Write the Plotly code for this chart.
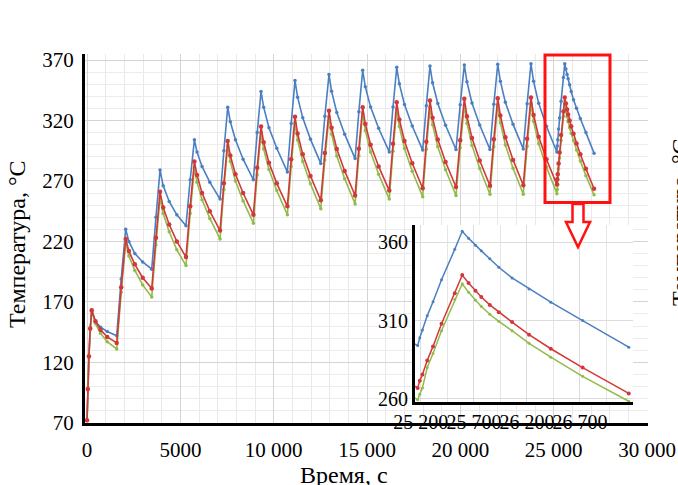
import plotly.graph_objects as go

# ---------------- data ----------------
time_s = [
    0, 40, 100, 170, 250,
    450, 720, 1080, 1590, 1830, 2070,
    2240, 2560, 2980, 3465, 3690, 3910,
    4080, 4400, 4810, 5300, 5525, 5750,
    5890, 6160, 6575, 7125, 7330, 7535,
    7675, 7950, 8360, 8910, 9115, 9320,
    9460, 9745, 10165, 10730, 10935, 11140,
    11280, 11555, 11970, 12520, 12740, 12960,
    13100, 13380, 13800, 14360, 14560, 14765,
    14905, 15190, 15620, 16190, 16390, 16590,
    16730, 17005, 17420, 17980, 18175, 18370,
    18510, 18790, 19205, 19765, 19990, 20210,
    20350, 20620, 21035, 21585, 21790, 22000,
    22140, 22410, 22820, 23370, 23575, 23780,
    23920, 24195, 24610, 25170,
    25190, 25215, 25260, 25315, 25395, 25520, 25590,
    25650, 25715, 25770, 25850, 25935, 26060, 26220, 26425, 26725, 27160,
]
temp_blue = [
    72, 98, 125, 148, 163,
    154, 149, 145.5, 142, 189, 230,
    220, 210, 203, 197, 240, 279,
    266, 253, 242, 233, 271, 304,
    294, 282, 269, 255, 295, 331,
    319, 304, 288, 271, 310, 344,
    331, 314, 297, 277.5, 317.5, 353,
    339.3, 322.2, 304.4, 284.5, 323.5, 358,
    344.1, 326.7, 308.7, 288.5, 327.2, 361.5,
    348, 331.1, 313.6, 294, 331.1, 364,
    350.3, 333.2, 315.4, 295.5, 332.3, 365,
    351.2, 334, 316, 296, 333.1, 366,
    352, 334.5, 316.3, 296, 333.4, 366.5,
    352.5, 335, 316.8, 296.5, 333.9, 367,
    352.4, 334.2, 315.2, 294,
    299, 304, 313, 322, 336, 355.5, 367,
    362.5, 358, 354.5, 349.5, 344, 337.2, 330.2, 321.7, 310, 293,
]
temp_red = [
    72, 98, 125, 148, 163,
    154, 147, 141, 136, 182, 222,
    212, 201, 190, 181, 223, 261,
    248, 234, 220, 207, 249, 286,
    275, 260, 245, 229, 268, 303,
    291, 275.5, 260, 242, 281, 315,
    302, 285, 268, 249, 288, 323,
    309.2, 292, 274, 254, 293.2, 328,
    314, 296.5, 278.3, 258, 296.7, 331,
    317.2, 300, 282, 262, 300.7, 335,
    320.8, 303, 284.6, 264, 302.4, 336.5,
    322.2, 304.3, 285.7, 265, 303.7, 338,
    323.6, 305.6, 286.9, 266, 304.4, 338.5,
    324.1, 306.1, 287.4, 266.5, 304.9, 339,
    324.6, 306.6, 287.9, 267,
    271.5, 275.5, 284.5, 293.5, 308, 327.5, 339,
    334, 329, 325, 320, 315.3, 309, 301, 292, 280, 263.5,
]
temp_green = [
    72, 97, 124, 147, 162,
    152, 144, 137, 131, 178, 219,
    208, 196, 184, 174, 217, 256,
    243, 228, 213, 200, 243, 281,
    269, 254.5, 239, 222, 263, 299,
    286, 270, 253.5, 235, 275, 310,
    296.5, 279.5, 262, 242, 282, 318,
    303.8, 286, 267.6, 247, 287.3, 323,
    308.6, 290.6, 271.9, 251, 290.8, 326,
    311.8, 294, 275.6, 255, 294.5, 329.5,
    315, 296.9, 278, 257, 296.2, 331,
    316.4, 298.2, 279.2, 258, 297.5, 332.5,
    317.8, 299.4, 280.3, 259, 298.2, 333,
    318.2, 299.7, 280.5, 259, 298.8, 334,
    319.2, 300.7, 281.5, 259.5,
    263, 267, 280, 289, 303.5, 323.5, 333.5,
    328, 323, 319, 314, 309.5, 303.5, 295.5, 286.6, 274.4, 258.5,
]

y_ticks = [70, 120, 170, 220, 270, 320, 370]
x_ticks = [0, 5000, 10000, 15000, 20000, 25000, 30000]
x_ticktext = ["0", "5000", "10 000", "15 000", "20 000", "25 000", "30 000"]
inset_x_ticks = [25200, 25700, 26200, 26700]
inset_x_ticktext = ["25 200", "25 700", "26 200", "26 700"]
inset_y_ticks = [260, 310, 360]

y_title = "Температура, °C"
x_title = "Время, с"

# ---------------- layout helpers ----------------
W, H = 678, 485
ML, MR, MT, MB = 85, 30, 54, 62
PW, PH = W - ML - MR, H - MT - MB


def px(x):
    return (x - ML) / PW


def py(y):
    return (H - MB - y) / PH


FONT = "Liberation Serif, Times New Roman, serif"
BLUE = "#4a7fc2"
RED = "#d2383a"
GREEN = "#93bb4b"

fig = go.Figure()

series = [
    (temp_blue, BLUE, 3.5, 1.6),
    (temp_green, GREEN, 3.5, 1.6),
    (temp_red, RED, 4.5, 1.6),
]
for vals, col, msize, lw in series:
    fig.add_trace(go.Scatter(x=time_s, y=vals, mode="lines+markers",
                             line=dict(color=col, width=lw),
                             marker=dict(color=col, size=msize),
                             xaxis="x", yaxis="y", showlegend=False,
                             hoverinfo="skip"))
for vals, col, msize, lw in series:
    fig.add_trace(go.Scatter(x=time_s, y=vals, mode="lines+markers",
                             line=dict(color=col, width=1.5),
                             marker=dict(color=col, size=msize - 0.5),
                             xaxis="x2", yaxis="y2", showlegend=False,
                             hoverinfo="skip"))

tickfont = dict(family=FONT, size=21, color="black")
inset_font = dict(family=FONT, size=20, color="black")

fig.update_layout(
    width=W, height=H,
    margin=dict(l=ML, r=MR, t=MT, b=MB, autoexpand=False),
    paper_bgcolor="white", plot_bgcolor="white",
    showlegend=False,
    xaxis=dict(
        domain=[0, 1], range=[-110, 30050],
        tickmode="array", tickvals=x_ticks, ticktext=x_ticktext,
        tickfont=tickfont, tickangle=0,
        ticks="outside", ticklen=6, tickcolor="rgba(0,0,0,0)",
        showline=True, linecolor="black", linewidth=3,
        showgrid=True, gridcolor="#d4d4d4", gridwidth=1,
        minor=dict(dtick=1000, tick0=0, showgrid=True,
                   gridcolor="#e9e9e9", gridwidth=1),
        zeroline=False,
    ),
    yaxis=dict(
        domain=[0, 1], range=[69.8, 375],
        tickmode="array", tickvals=y_ticks,
        tickfont=tickfont,
        ticks="outside", ticklen=4, tickcolor="rgba(0,0,0,0)",
        showline=True, linecolor="black", linewidth=3,
        showgrid=True, gridcolor="#d4d4d4", gridwidth=1,
        minor=dict(dtick=10, tick0=70, showgrid=True,
                   gridcolor="#ececec", gridwidth=1),
        zeroline=False,
    ),
    xaxis2=dict(
        domain=[px(415), px(633)], range=[25145, 27200], anchor="y2",
        tickmode="array", tickvals=inset_x_ticks, ticktext=inset_x_ticktext,
        tickfont=inset_font, tickangle=0, ticks="",
        showline=True, linecolor="black", linewidth=3,
        showgrid=True, gridcolor="#dcdcdc",
        minor=dict(dtick=250, tick0=25200, showgrid=True,
                   gridcolor="#e6e6e6"),
        zeroline=False,
    ),
    yaxis2=dict(
        domain=[py(402), py(225)], range=[258, 371], anchor="x2",
        tickmode="array", tickvals=inset_y_ticks,
        tickfont=inset_font, ticks="",
        showline=True, linecolor="black", linewidth=3,
        showgrid=True, gridcolor="#dcdcdc",
        zeroline=False,
    ),
)

# red highlight rectangle
fig.add_shape(type="rect", xref="paper", yref="paper",
              x0=px(545), x1=px(610), y0=py(202.5), y1=py(55),
              line=dict(color="#ff1111", width=3), fillcolor="rgba(0,0,0,0)",
              layer="above")

# hollow arrow pointing down
pts = [(572.5, 204), (583.5, 204), (583.5, 222), (590, 222),
       (578, 247), (566, 222), (572.5, 222)]
path = "M " + " L ".join(f"{px(x):.5f},{py(y):.5f}" for x, y in pts) + " Z"
fig.add_shape(type="path", xref="paper", yref="paper", path=path,
              line=dict(color="#ff1111", width=2.5), fillcolor="white",
              layer="above")

title_font = dict(family=FONT, size=24, color="black")
fig.add_annotation(text=y_title, xref="paper", yref="paper",
                   x=px(17), y=py(244), textangle=-90, showarrow=False,
                   font=title_font, xanchor="center", yanchor="middle")
fig.add_annotation(text=x_title, xref="paper", yref="paper",
                   x=px(344), y=py(475), showarrow=False,
                   font=title_font, xanchor="center", yanchor="middle")
# fragment of neighbouring chart's axis title at the right edge
fig.add_annotation(text=y_title, xref="paper", yref="paper",
                   x=px(680), y=py(222), textangle=-90, showarrow=False,
                   font=title_font, xanchor="center", yanchor="middle")

fig.write_html("out.html")
